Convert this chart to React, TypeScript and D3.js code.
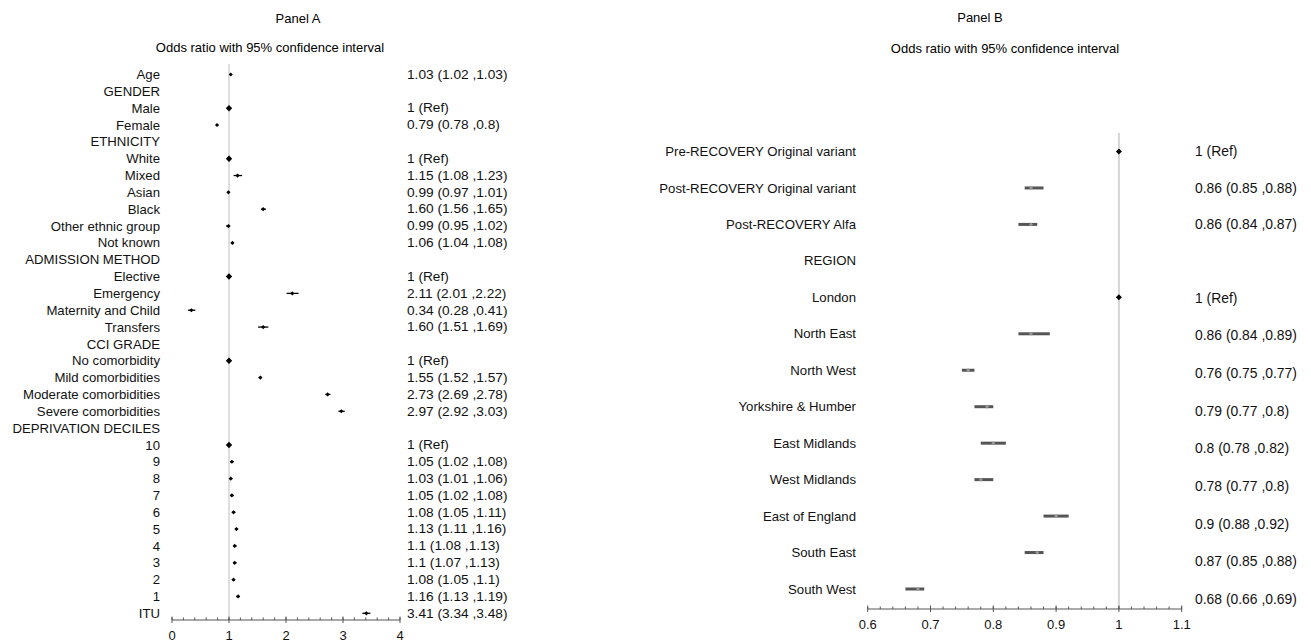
import React, { useEffect, useRef } from "react";
import * as d3 from "d3";

// Panel A rows (header rows have no estimate)
const labelsA = [
    "Age", "GENDER", "Male", "Female", "ETHNICITY", "White", "Mixed", "Asian", "Black",
    "Other ethnic group", "Not known", "ADMISSION METHOD", "Elective", "Emergency",
    "Maternity and Child", "Transfers", "CCI GRADE", "No comorbidity", "Mild comorbidities",
    "Moderate comorbidities", "Severe comorbidities", "DEPRIVATION DECILES",
    "10", "9", "8", "7", "6", "5", "4", "3", "2", "1", "ITU"
];
const orA = [1.03, null, 1, 0.79, null, 1, 1.15, 0.99, 1.60, 0.99, 1.06, null, 1, 2.11, 0.34, 1.60,
    null, 1, 1.55, 2.73, 2.97, null, 1, 1.05, 1.03, 1.05, 1.08, 1.13, 1.1, 1.1, 1.08, 1.16, 3.41];
const lowA = [1.02, null, 1, 0.78, null, 1, 1.08, 0.97, 1.56, 0.95, 1.04, null, 1, 2.01, 0.28, 1.51,
    null, 1, 1.52, 2.69, 2.92, null, 1, 1.02, 1.01, 1.02, 1.05, 1.11, 1.08, 1.07, 1.05, 1.13, 3.34];
const highA = [1.03, null, 1, 0.8, null, 1, 1.23, 1.01, 1.65, 1.02, 1.08, null, 1, 2.22, 0.41, 1.69,
    null, 1, 1.57, 2.78, 3.03, null, 1, 1.08, 1.06, 1.08, 1.11, 1.16, 1.13, 1.13, 1.1, 1.19, 3.48];
const textA = [
    "1.03 (1.02 ,1.03)", "", "1 (Ref)", "0.79 (0.78 ,0.8)", "", "1 (Ref)", "1.15 (1.08 ,1.23)",
    "0.99 (0.97 ,1.01)", "1.60 (1.56 ,1.65)", "0.99 (0.95 ,1.02)", "1.06 (1.04 ,1.08)", "",
    "1 (Ref)", "2.11 (2.01 ,2.22)", "0.34 (0.28 ,0.41)", "1.60 (1.51 ,1.69)", "", "1 (Ref)",
    "1.55 (1.52 ,1.57)", "2.73 (2.69 ,2.78)", "2.97 (2.92 ,3.03)", "", "1 (Ref)",
    "1.05 (1.02 ,1.08)", "1.03 (1.01 ,1.06)", "1.05 (1.02 ,1.08)", "1.08 (1.05 ,1.11)",
    "1.13 (1.11 ,1.16)", "1.1 (1.08 ,1.13)", "1.1 (1.07 ,1.13)", "1.08 (1.05 ,1.1)",
    "1.16 (1.13 ,1.19)", "3.41 (3.34 ,3.48)"
];
const refA = [2, 5, 12, 17, 22];
const ticksA = [0, 1, 2, 3, 4];

// Panel B rows
const labelsB = [
    "Pre-RECOVERY Original variant", "Post-RECOVERY Original variant", "Post-RECOVERY Alfa",
    "REGION", "London", "North East", "North West", "Yorkshire & Humber", "East Midlands",
    "West Midlands", "East of England", "South East", "South West"
];
const orB = [1, 0.86, 0.86, null, 1, 0.86, 0.76, 0.79, 0.8, 0.78, 0.9, 0.87, 0.68];
const lowB = [1, 0.85, 0.84, null, 1, 0.84, 0.75, 0.77, 0.78, 0.77, 0.88, 0.85, 0.66];
const highB = [1, 0.88, 0.87, null, 1, 0.89, 0.77, 0.8, 0.82, 0.8, 0.92, 0.88, 0.69];
const textB = [
    "1 (Ref)", "0.86 (0.85 ,0.88)", "0.86 (0.84 ,0.87)", "", "1 (Ref)", "0.86 (0.84 ,0.89)",
    "0.76 (0.75 ,0.77)", "0.79 (0.77 ,0.8)", "0.8 (0.78 ,0.82)", "0.78 (0.77 ,0.8)",
    "0.9 (0.88 ,0.92)", "0.87 (0.85 ,0.88)", "0.68 (0.66 ,0.69)"
];
const refB = [0, 4];
const ticksB = [0.6, 0.7, 0.8, 0.9, 1, 1.1];

const FONT = "'Liberation Sans', Arial, sans-serif";

const diamond = (cx, cy, r) => `M${cx},${cy - r}L${cx + r},${cy}L${cx},${cy + r}L${cx - r},${cy}Z`;

export default function App() {
    const svgRef = useRef(null);

    useEffect(() => {
        const width = 1311;
        const height = 643;
        const svg = d3.select(svgRef.current)
            .attr("width", width)
            .attr("height", height)
            .style("font-family", FONT);

        svg.selectAll("*").remove();

        // ---------- Panel A ----------
        const xA = d3.scaleLinear().domain([0, 4]).range([172, 400]);
        const yA = d3.scaleLinear().domain([0, labelsA.length - 1]).range([74.5, 613.3]);
        const axisYA = 620;
        const gA = svg.append("g");

        gA.append("text").attr("x", 298).attr("y", 18).attr("dy", "0.35em")
            .attr("text-anchor", "middle").style("font-size", "13px").text("Panel A");
        gA.append("text").attr("x", 270).attr("y", 47).attr("dy", "0.35em")
            .attr("text-anchor", "middle").style("font-size", "13px")
            .text("Odds ratio with 95% confidence interval");

        gA.append("line")
            .attr("x1", xA(1)).attr("x2", xA(1))
            .attr("y1", 64).attr("y2", axisYA)
            .attr("stroke", "#bdbdbd").attr("stroke-width", 1);

        gA.selectAll(".lab").data(labelsA).join("text")
            .attr("class", "lab")
            .attr("x", 160).attr("y", (d, i) => yA(i)).attr("dy", "0.35em")
            .attr("text-anchor", "end").style("font-size", "13.2px").attr("fill", "#111")
            .text(d => d);

        gA.selectAll(".val").data(textA).join("text")
            .attr("class", "val")
            .attr("x", 407).attr("y", (d, i) => yA(i) - 0.5).attr("dy", "0.35em")
            .style("font-size", "13.7px").attr("fill", "#111")
            .text(d => d);

        const rowsA = orA.map((v, i) => ({ v, lo: lowA[i], hi: highA[i], i, ref: refA.includes(i) }))
            .filter(d => d.v !== null);

        gA.selectAll(".ci").data(rowsA.filter(d => !d.ref)).join("line")
            .attr("x1", d => xA(d.lo)).attr("x2", d => xA(d.hi))
            .attr("y1", d => yA(d.i)).attr("y2", d => yA(d.i))
            .attr("stroke", "#000").attr("stroke-width", 1.3);

        gA.selectAll(".pt").data(rowsA).join("path")
            .attr("d", d => diamond(xA(d.v), yA(d.i), d.ref ? 3.2 : 2.1))
            .attr("fill", "#000");

        // axis
        gA.append("line").attr("x1", xA(0)).attr("x2", xA(4))
            .attr("y1", axisYA).attr("y2", axisYA).attr("stroke", "#555");
        const minorA = d3.range(0, 4.0001, 0.2);
        gA.selectAll(".mt").data(minorA).join("line")
            .attr("x1", d => xA(d)).attr("x2", d => xA(d))
            .attr("y1", axisYA - 2.5).attr("y2", axisYA)
            .attr("stroke", "#555");
        gA.selectAll(".Mt").data(ticksA).join("line")
            .attr("x1", d => xA(d)).attr("x2", d => xA(d))
            .attr("y1", axisYA - 3.5).attr("y2", axisYA + 3)
            .attr("stroke", "#555");
        gA.selectAll(".tl").data(ticksA).join("text")
            .attr("x", d => xA(d)).attr("y", 635).attr("dy", "0.35em")
            .attr("text-anchor", "middle").style("font-size", "13px").attr("fill", "#111")
            .text(d => d);

        // ---------- Panel B ----------
        const xB = d3.scaleLinear().domain([0.6, 1.1]).range([867.7, 1181.7]);
        const yB = d3.scaleLinear().domain([0, labelsB.length - 1]).range([151.5, 589]);
        // value column drifts slightly lower than the rows from London on
        const yValB = d3.scaleLinear().domain([4, labelsB.length - 1]).range([298, 599]);
        const axisYB = 609;
        const gB = svg.append("g");

        gB.append("text").attr("x", 980).attr("y", 17).attr("dy", "0.35em")
            .attr("text-anchor", "middle").style("font-size", "13px").text("Panel B");
        gB.append("text").attr("x", 1005).attr("y", 48).attr("dy", "0.35em")
            .attr("text-anchor", "middle").style("font-size", "13px")
            .text("Odds ratio with 95% confidence interval");

        gB.append("line")
            .attr("x1", xB(1)).attr("x2", xB(1))
            .attr("y1", 133).attr("y2", axisYB)
            .attr("stroke", "#d4d4d4").attr("stroke-width", 2);

        gB.selectAll(".lab").data(labelsB).join("text")
            .attr("class", "lab")
            .attr("x", 856).attr("y", (d, i) => yB(i)).attr("dy", "0.35em")
            .attr("text-anchor", "end").style("font-size", "13.2px").attr("fill", "#111")
            .text(d => d);

        gB.selectAll(".val").data(textB).join("text")
            .attr("class", "val")
            .attr("x", 1195).attr("y", (d, i) => (i < 4 ? yB(i) : yValB(i))).attr("dy", "0.35em")
            .style("font-size", "13.9px").attr("fill", "#111")
            .text(d => d);

        const rowsB = orB.map((v, i) => ({ v, lo: lowB[i], hi: highB[i], i, ref: refB.includes(i) }))
            .filter(d => d.v !== null);

        gB.selectAll(".ci").data(rowsB.filter(d => !d.ref)).join("line")
            .attr("x1", d => xB(d.lo)).attr("x2", d => xB(d.hi))
            .attr("y1", d => yB(d.i)).attr("y2", d => yB(d.i))
            .attr("stroke", "#555").attr("stroke-width", 3);

        gB.selectAll(".pt").data(rowsB).join("path")
            .attr("d", d => diamond(xB(d.v), yB(d.i), d.ref ? 3 : 2))
            .attr("fill", d => (d.ref ? "#000" : "#999"));

        gB.append("line").attr("x1", xB(0.6)).attr("x2", xB(1.1))
            .attr("y1", axisYB).attr("y2", axisYB).attr("stroke", "#555");
        const minorB = d3.range(0, 26).map(k => 0.6 + k * 0.02);
        gB.selectAll(".mt").data(minorB).join("line")
            .attr("x1", d => xB(d)).attr("x2", d => xB(d))
            .attr("y1", axisYB - 2.5).attr("y2", axisYB)
            .attr("stroke", "#555");
        gB.selectAll(".Mt").data(ticksB).join("line")
            .attr("x1", d => xB(d)).attr("x2", d => xB(d))
            .attr("y1", axisYB - 3.5).attr("y2", axisYB + 3)
            .attr("stroke", "#555");
        gB.selectAll(".tl").data(ticksB).join("text")
            .attr("x", d => xB(d)).attr("y", 624).attr("dy", "0.35em")
            .attr("text-anchor", "middle").style("font-size", "13px").attr("fill", "#111")
            .text(d => d3.format("~g")(d));
    }, []);

    return (
        <svg ref={svgRef} style={{ position: "absolute", left: 0, top: 0, background: "#fff" }} />
    );
}
